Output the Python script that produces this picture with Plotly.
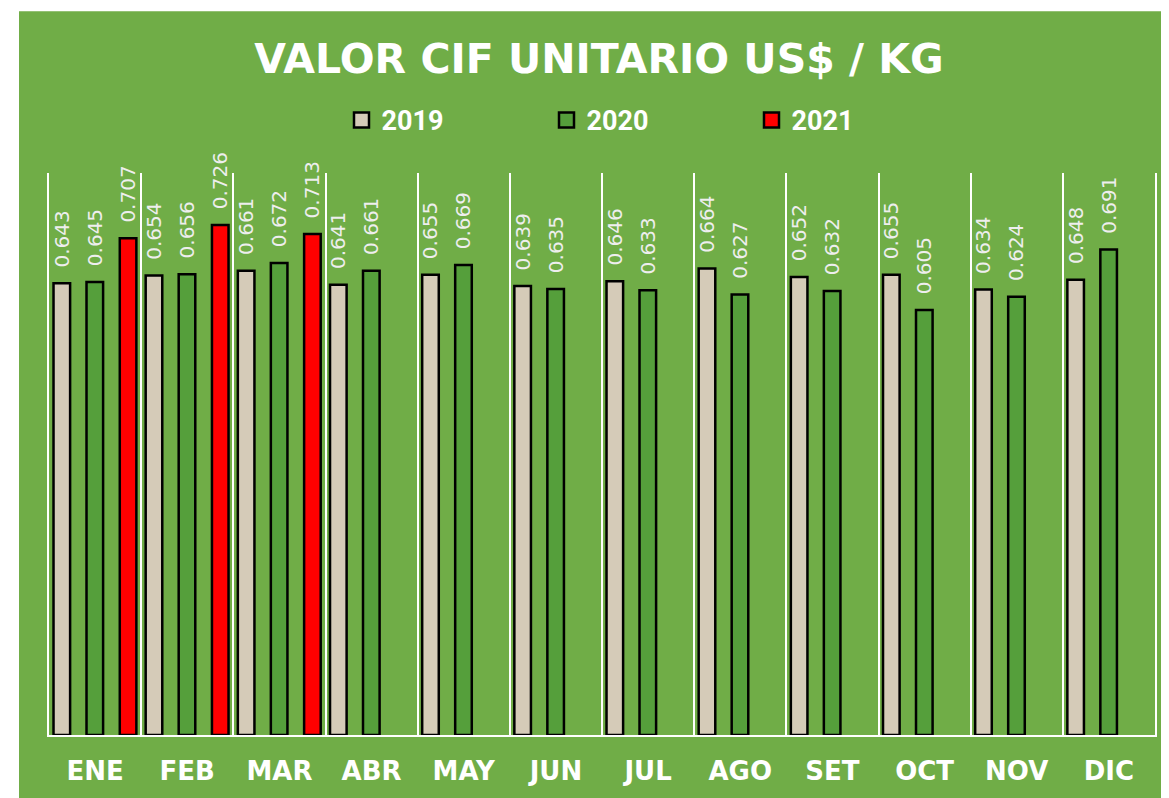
import plotly.graph_objects as go

months = ["ENE", "FEB", "MAR", "ABR", "MAY", "JUN", "JUL", "AGO", "SET", "OCT", "NOV", "DIC"]
v2019 = [0.643, 0.654, 0.661, 0.641, 0.655, 0.639, 0.646, 0.664, 0.652, 0.655, 0.634, 0.648]
v2020 = [0.645, 0.656, 0.672, 0.661, 0.669, 0.635, 0.633, 0.627, 0.632, 0.605, 0.624, 0.691]
m2021 = ["ENE", "FEB", "MAR"]
v2021 = [0.707, 0.726, 0.713]

# page body has an 8px margin: figure is laid out in its own coordinates
OFF = 8
W, H = 1169 - OFF, 798 - OFF
ML, MR, MT, MB = 49 - OFF, 14, 173 - OFF, 67 - OFF
PW, PH = W - ML - MR, H - MT - MB

GREEN_BG = "#70AD47"
label_font = dict(family="DejaVu Sans", size=20, color="#EEEEEE")

series = [
    ("2019", months, v2019, "#D5CBB8", -0.451),
    ("2020", months, v2020, "#559F3B", -0.093),
    ("2021", m2021, v2021, "#FF0000", 0.268),
]

fig = go.Figure()
for name, xs, ys, color, off in series:
    fig.add_trace(go.Bar(
        name=name, x=xs, y=ys, showlegend=False, legendgroup=name,
        marker=dict(color=color, line=dict(color="black", width=2.5)),
        width=0.18, offset=off,
        text=[f"{v:.3f}" for v in ys],
        texttemplate="\u00a0\u00a0%{text}",
        textposition="outside", textangle=-90,
        textfont=label_font, constraintext="none", cliponaxis=False,
    ))
# legend entries with larger square swatches
for name, xs, ys, color, off in series:
    fig.add_trace(go.Scatter(
        name=name, x=[None], y=[None], mode="markers", legendgroup=name,
        marker=dict(symbol="square", size=15, color=color, line=dict(color="black", width=2.5)),
        hoverinfo="skip",
    ))

fig.update_layout(
    width=W, height=H,
    margin=dict(l=ML, r=MR, t=MT, b=MB, pad=0),
    paper_bgcolor="white", plot_bgcolor="rgba(0,0,0,0)",
    barmode="overlay",
    showlegend=True,
    title=dict(
        text="VALOR CIF UNITARIO US$ / KG",
        font=dict(family="DejaVu Sans", size=41, color="white", weight=700),
        x=(599 - OFF) / W, xanchor="center", xref="container",
        y=1 - (58.5 - OFF) / H, yanchor="middle", yref="container",
    ),
    legend=dict(
        orientation="h", x=(649 - OFF - ML) / PW, xanchor="center",
        y=(H - MB - (120 - OFF)) / PH, yanchor="middle",
        font=dict(family="Roboto", size=27, color="white", weight=700),
        bgcolor="rgba(0,0,0,0)", entrywidth=160, traceorder="normal",
        itemsizing="trace",
    ),
    xaxis=dict(
        type="category", categoryorder="array", categoryarray=months,
        range=[-0.5, 11.5], tickson="boundaries", ticks="",
        showgrid=True, gridcolor="white", gridwidth=2,
        showline=True, linecolor="white", linewidth=2,
        tickfont=dict(family="DejaVu Sans", size=26, color="white", weight=700),
        ticklabelstandoff=12,
    ),
    yaxis=dict(
        range=[0, 0.8], showticklabels=False, ticks="", showgrid=False, zeroline=False,
        showline=True, linecolor="white", linewidth=2, mirror=True,
    ),
    shapes=[dict(
        type="rect", xref="paper", yref="paper", layer="below",
        x0=(19 - OFF - ML) / PW, x1=(W + 20 - ML) / PW,
        y0=-(MB + 20) / PH, y1=(H - MB - (10 - OFF)) / PH,
        fillcolor=GREEN_BG, line=dict(width=0),
    )],
)

fig.write_html("out.html")
